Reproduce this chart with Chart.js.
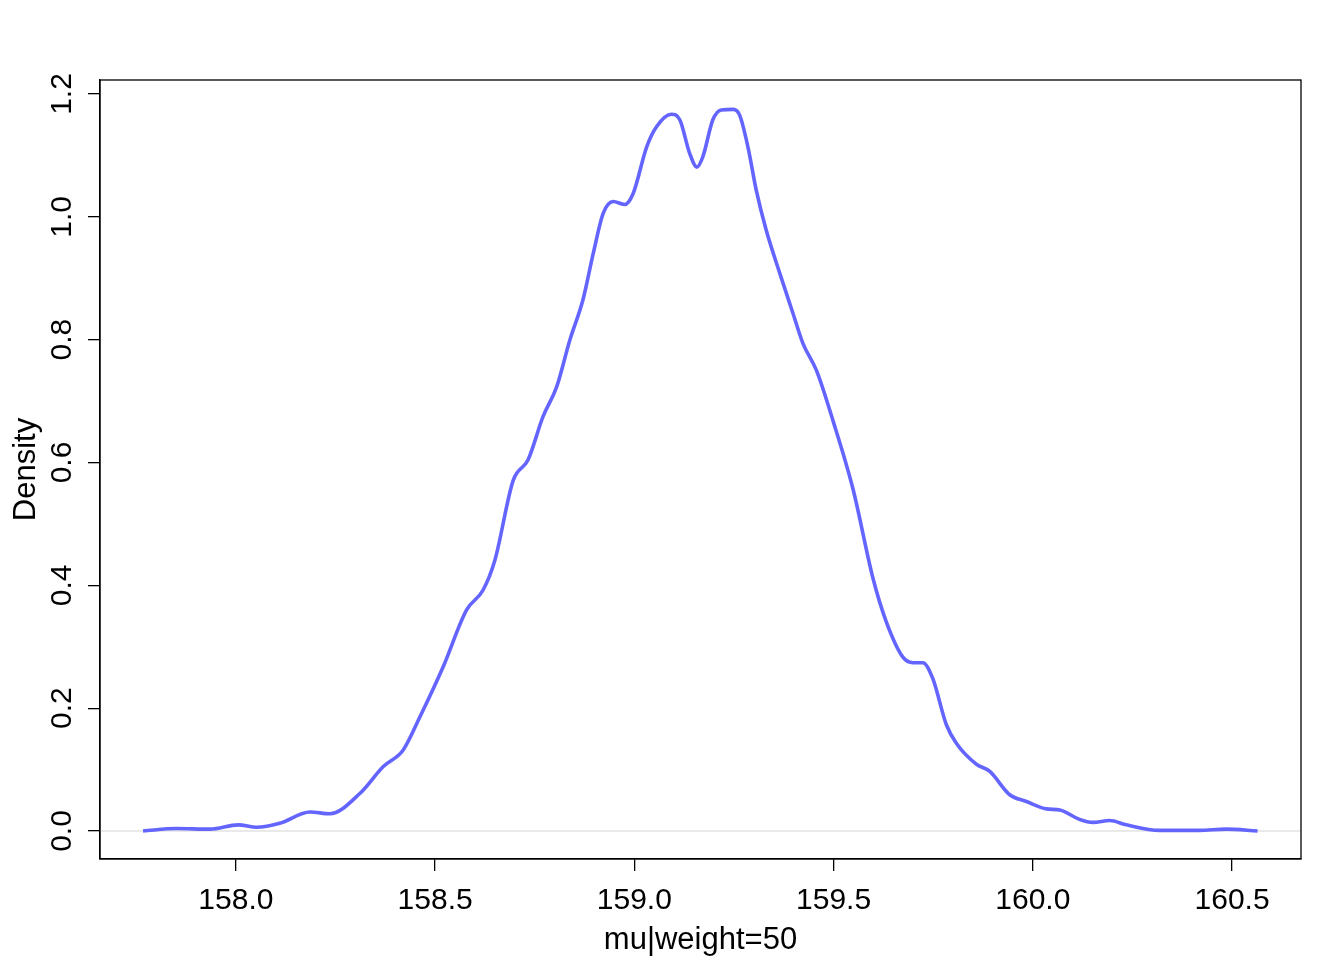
<!DOCTYPE html>
<html>
<head>
<meta charset="utf-8">
<script src="https://cdn.jsdelivr.net/npm/chart.js@4/dist/chart.umd.min.js"></script>
<style>
    html, body { margin: 0; padding: 0; background: #fff; }
    #wrap { width: 1344px; height: 960px; }
</style>
</head>
<body>
<div id="wrap"><canvas id="density-chart" width="1344" height="960"></canvas></div>
<script>
// Density curve
const muValues = [
    157.767, 157.851, 157.935, 158.006, 158.052, 158.110, 158.186, 158.236, 158.311, 158.370,
    158.420, 158.462, 158.520, 158.579, 158.620, 158.650, 158.696, 158.733, 158.771, 158.805,
    158.838, 158.871, 158.897, 158.922, 158.947, 158.976, 158.997, 159.031, 159.056, 159.093,
    159.114, 159.139, 159.157, 159.172, 159.197, 159.218, 159.248, 159.264, 159.285, 159.306,
    159.331, 159.365, 159.398, 159.423, 159.457, 159.499, 159.549, 159.599, 159.632, 159.674,
    159.699, 159.724, 159.749, 159.783, 159.808, 159.858, 159.892, 159.942, 159.984, 160.034,
    160.068, 160.117, 160.151, 160.193, 160.235, 160.318, 160.418, 160.485, 160.564
];
const densityValues = [
    0.000, 0.004, 0.003, 0.010, 0.006, 0.0125, 0.031, 0.028, 0.061, 0.105,
    0.132, 0.186, 0.267, 0.360, 0.392, 0.441, 0.571, 0.604, 0.675, 0.723,
    0.799, 0.865, 0.941, 1.006, 1.025, 1.020, 1.038, 1.114, 1.147, 1.167,
    1.158, 1.103, 1.081, 1.098, 1.158, 1.174, 1.175, 1.166, 1.114, 1.043,
    0.978, 0.908, 0.843, 0.794, 0.750, 0.667, 0.556, 0.411, 0.341, 0.283,
    0.274, 0.274, 0.248, 0.173, 0.143, 0.109, 0.097, 0.059, 0.048, 0.036,
    0.034, 0.019, 0.014, 0.017, 0.010, 0.001, 0.001, 0.003, 0.000
];

// Axis ticks and ranges
const xTicks = [158.0, 158.5, 159.0, 159.5, 160.0, 160.5];
const yTicks = [0.0, 0.2, 0.4, 0.6, 0.8, 1.0, 1.2];
const xRange = [157.659, 160.673];
const yRange = [-0.0456, 1.2228];

const xTitle = 'mu|weight=50';
const yTitle = 'Density';

const TICK_FONT = '30px "Liberation Sans", Arial, sans-serif';
const TITLE_FONT = '31px "Liberation Sans", Arial, sans-serif';

const curvePoints = muValues.map((x, i) => ({ x: x, y: densityValues[i] }));
const zeroLine = [{ x: xRange[0], y: 0 }, { x: xRange[1], y: 0 }];

// Box around the plot plus all the text, R style
const boxAndLabels = {
    id: 'boxAndLabels',
    afterDraw(chart) {
        const ctx = chart.ctx;
        const area = chart.chartArea;
        const xs = chart.scales.x;
        const ys = chart.scales.y;
        ctx.save();
        ctx.strokeStyle = '#000';
        ctx.lineWidth = 1.3;
        ctx.strokeRect(area.left, area.top, area.right - area.left, area.bottom - area.top);

        ctx.fillStyle = '#000';
        ctx.textAlign = 'center';
        ctx.textBaseline = 'middle';
        ctx.font = TICK_FONT;
        xTicks.forEach(t => {
            ctx.fillText(t.toFixed(1), xs.getPixelForValue(t), area.bottom + 42);
        });
        yTicks.forEach(t => {
            ctx.save();
            ctx.translate(area.left - 37, ys.getPixelForValue(t));
            ctx.rotate(-Math.PI / 2);
            ctx.fillText(t.toFixed(1), 0, 0);
            ctx.restore();
        });

        ctx.font = TITLE_FONT;
        ctx.fillText(xTitle, (area.left + area.right) / 2, area.bottom + 81);
        ctx.save();
        ctx.translate(area.left - 74, (area.top + area.bottom) / 2);
        ctx.rotate(-Math.PI / 2);
        ctx.fillText(yTitle, 0, 0);
        ctx.restore();
        ctx.restore();
    }
};

new Chart(document.getElementById('density-chart'), {
    type: 'scatter',
    data: {
        datasets: [
            {
                data: zeroLine,
                showLine: true,
                borderColor: '#d3d3d3',
                borderWidth: 1,
                pointRadius: 0,
                order: 2
            },
            {
                data: curvePoints,
                showLine: true,
                borderColor: '#6464ff',
                borderWidth: 3.6,
                pointRadius: 0,
                tension: 0.4,
                cubicInterpolationMode: 'monotone',
                order: 1
            }
        ]
    },
    options: {
        responsive: false,
        animation: false,
        events: [],
        layout: { padding: { left: 0, right: 43, top: 80, bottom: 0 } },
        plugins: { legend: { display: false }, tooltip: { enabled: false } },
        scales: {
            x: {
                type: 'linear',
                min: xRange[0],
                max: xRange[1],
                afterBuildTicks: axis => { axis.ticks = xTicks.map(v => ({ value: v })); },
                afterFit: axis => { axis.height = 101; },
                grid: { drawOnChartArea: false, drawTicks: true, tickLength: 12, color: '#000', lineWidth: 1.3 },
                border: { display: true, color: '#000', width: 1.3 },
                ticks: { display: false }
            },
            y: {
                type: 'linear',
                min: yRange[0],
                max: yRange[1],
                afterBuildTicks: axis => { axis.ticks = yTicks.map(v => ({ value: v })); },
                afterFit: axis => { axis.width = 100; },
                grid: { drawOnChartArea: false, drawTicks: true, tickLength: 12, color: '#000', lineWidth: 1.3 },
                border: { display: true, color: '#000', width: 1.3 },
                ticks: { display: false }
            }
        }
    },
    plugins: [boxAndLabels]
});
</script>
</body>
</html>
